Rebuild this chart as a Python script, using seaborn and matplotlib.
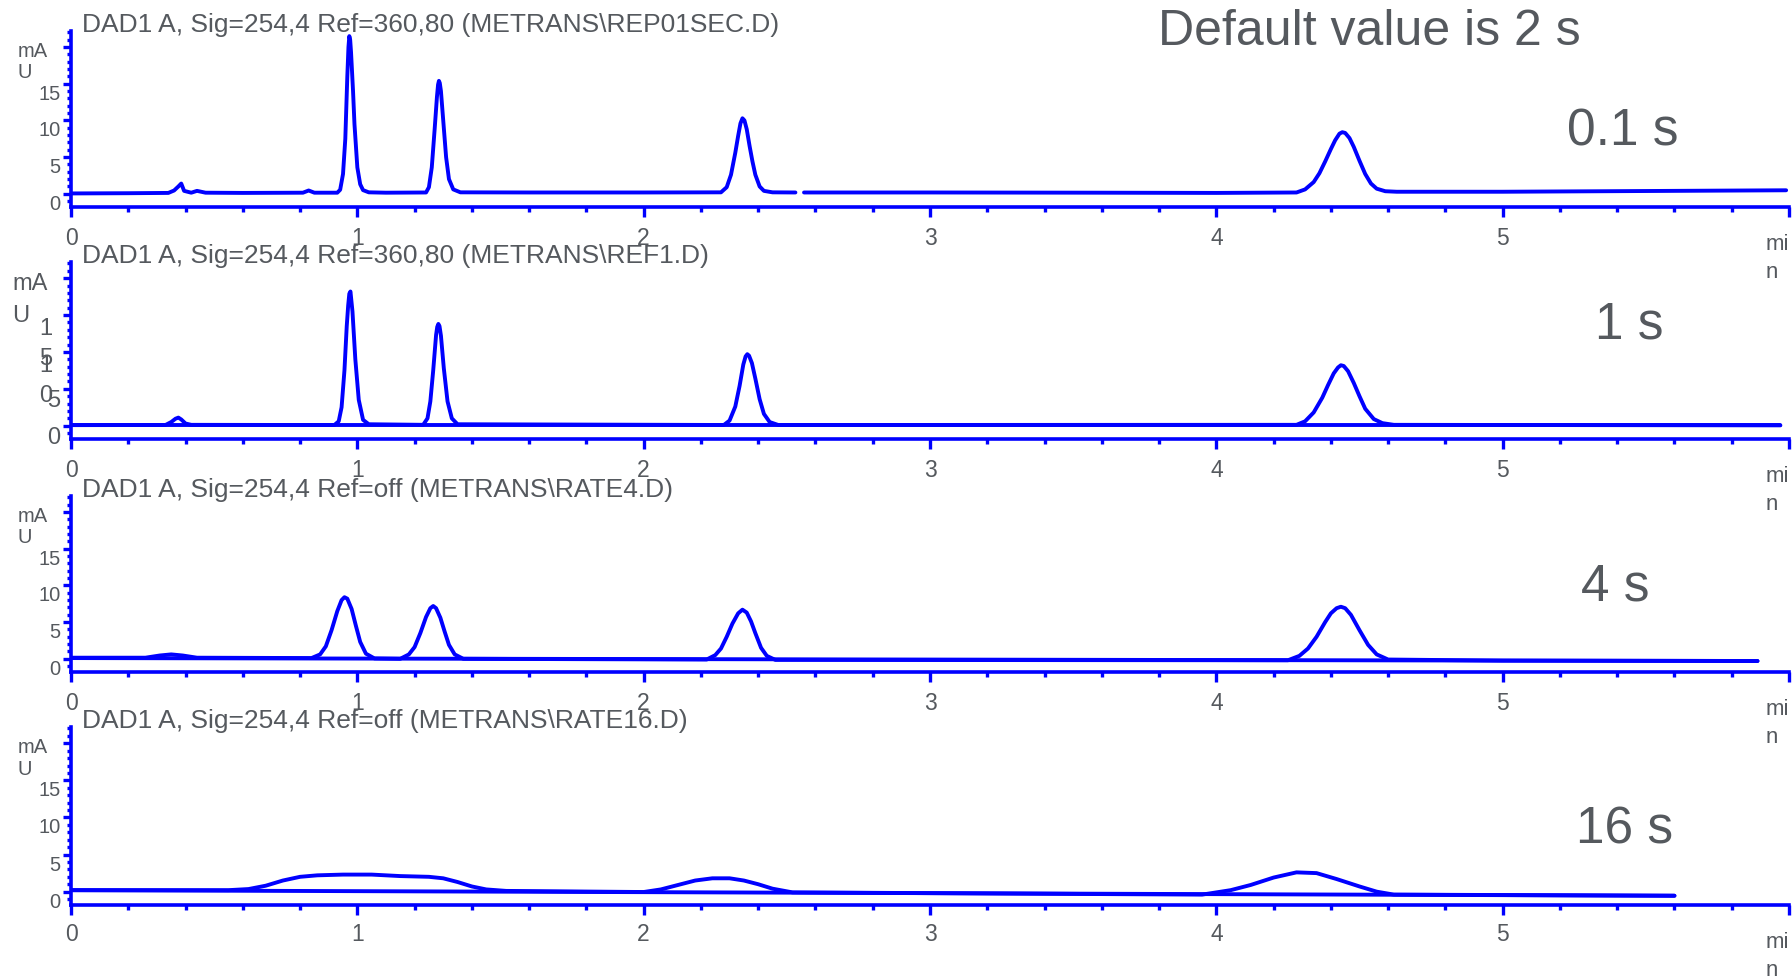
import matplotlib
matplotlib.use("Agg")
import matplotlib.pyplot as plt
import matplotlib.transforms as mtransforms
from matplotlib.ticker import FixedLocator, MultipleLocator
import seaborn as sns

# ---- data (time in min, signal in mAU) ----
titles = [
    "DAD1 A, Sig=254,4 Ref=360,80 (METRANS\\REP01SEC.D)",
    "DAD1 A, Sig=254,4 Ref=360,80 (METRANS\\REF1.D)",
    "DAD1 A, Sig=254,4 Ref=off (METRANS\\RATE4.D)",
    "DAD1 A, Sig=254,4 Ref=off (METRANS\\RATE16.D)",
]
rates = ["0.1 s", "1 s", "4 s", "16 s"]

# 0.1 s trace, first part (detector gap around 2.54 min)
t01_a = [0.00, 0.20, 0.34, 0.36, 0.375, 0.385, 0.395, 0.42, 0.44, 0.47, 0.60, 0.81, 0.83,
         0.85, 0.93, 0.94, 0.95, 0.958, 0.965, 0.969, 0.972, 0.975, 0.978, 0.985, 0.99,
         1.00, 1.01, 1.02, 1.04, 1.10, 1.24, 1.25, 1.26, 1.27, 1.278, 1.282, 1.285, 1.288,
         1.292, 1.30, 1.31, 1.32, 1.335, 1.36, 1.60, 2.00, 2.27, 2.29, 2.305, 2.32, 2.33,
         2.338, 2.345, 2.352, 2.36, 2.37, 2.38, 2.39, 2.405, 2.42, 2.45, 2.53]
s01_a = [0.05, 0.08, 0.12, 0.45, 1.00, 1.40, 0.40, 0.15, 0.40, 0.15, 0.12, 0.15, 0.45,
         0.15, 0.15, 0.55, 2.70, 7.50, 16.0, 20.0, 21.5, 21.0, 19.3, 14.0, 9.5,
         3.6, 1.3, 0.5, 0.2, 0.15, 0.18, 0.90, 3.60, 8.80, 13.2, 14.9, 15.4, 15.1,
         14.0, 10.0, 5.0, 2.0, 0.6, 0.2, 0.18, 0.18, 0.20, 0.90, 2.60, 5.60, 7.90,
         9.60, 10.3, 10.0, 8.8, 6.5, 4.4, 2.6, 1.0, 0.40, 0.20, 0.18]
t01_b = [2.56, 3.00, 3.60, 4.00, 4.28, 4.31, 4.34, 4.36, 4.38, 4.40, 4.415, 4.43, 4.44,
         4.45, 4.465, 4.48, 4.50, 4.52, 4.54, 4.56, 4.59, 4.63, 5.00, 5.50, 5.99]
s01_b = [0.18, 0.18, 0.15, 0.12, 0.18, 0.60, 1.60, 2.80, 4.40, 6.10, 7.30, 8.20, 8.40,
         8.30, 7.60, 6.40, 4.50, 2.70, 1.40, 0.70, 0.35, 0.28, 0.28, 0.38, 0.48]

# 1 s trace
t1 = [0.00, 0.33, 0.35, 0.365, 0.375, 0.385, 0.40, 0.42, 0.80, 0.92, 0.935, 0.945, 0.955,
      0.963, 0.968, 0.972, 0.976, 0.983, 0.993, 1.005, 1.02, 1.04, 1.23, 1.245, 1.255,
      1.265, 1.275, 1.279, 1.283, 1.287, 1.292, 1.302, 1.315, 1.33, 1.35, 2.28, 2.30, 2.32,
      2.335, 2.348, 2.356, 2.362, 2.368, 2.378, 2.39, 2.405, 2.42, 2.44, 2.47, 4.28, 4.31,
      4.34, 4.37, 4.39, 4.41, 4.425, 4.435, 4.445, 4.46, 4.48, 4.50, 4.52, 4.55, 4.58, 4.62,
      5.97]
s1 = [0.08, 0.10, 0.50, 0.95, 1.10, 0.85, 0.30, 0.12, 0.10, 0.10, 0.6, 2.5, 7.5,
      13.5, 16.3, 17.9, 18.2, 15.5, 9.0, 3.5, 0.8, 0.2, 0.12, 1.0, 3.3,
      7.5, 12.3, 13.4, 13.8, 13.5, 12.2, 7.8, 3.3, 1.0, 0.2, 0.1, 0.7, 2.6,
      5.4, 8.3, 9.4, 9.7, 9.5, 8.5, 6.4, 3.6, 1.6, 0.5, 0.1, 0.12, 0.6,
      1.8, 3.8, 5.5, 7.1, 7.9, 8.2, 8.1, 7.4, 5.8, 4.0, 2.3, 0.9, 0.35, 0.12,
      0.05]
t1_base = [0.00, 5.97]
s1_base = [0.05, 0.05]

# 4 s trace
t4 = [0.00, 0.26, 0.31, 0.35, 0.39, 0.44, 0.84, 0.87, 0.89, 0.91, 0.93, 0.945, 0.955, 0.965,
      0.98, 0.995, 1.01, 1.03, 1.06, 1.15, 1.18, 1.20, 1.22, 1.24, 1.255, 1.265, 1.275,
      1.29, 1.305, 1.32, 1.34, 1.37, 2.22, 2.25, 2.27, 2.29, 2.31, 2.33, 2.345, 2.36,
      2.375, 2.39, 2.41, 2.43, 2.46, 4.25, 4.29, 4.32, 4.35, 4.38, 4.40, 4.42, 4.435, 4.45,
      4.47, 4.50, 4.53, 4.56, 4.60, 5.00, 5.89]
s4 = [0.15, 0.15, 0.45, 0.60, 0.45, 0.15, 0.10, 0.6, 1.7, 3.9, 6.5, 8.0, 8.4, 8.2,
      6.8, 4.5, 2.3, 0.7, 0.05, 0.0, 0.6, 1.6, 3.5, 5.7, 6.9, 7.2, 6.9,
      5.6, 3.7, 1.9, 0.6, 0.0, -0.1, 0.5, 1.4, 3.0, 4.8, 6.2, 6.7, 6.3,
      5.1, 3.5, 1.5, 0.4, -0.15, -0.2, 0.4, 1.4, 3.0, 5.0, 6.2, 6.9, 7.1, 6.9,
      6.0, 3.9, 1.9, 0.6, -0.1, -0.25, -0.30]
t4_base = [0.00, 5.89]
s4_base = [0.10, -0.30]

# 16 s trace
t16 = [0.00, 0.55, 0.62, 0.68, 0.74, 0.80, 0.86, 0.95, 1.05, 1.15, 1.25, 1.30, 1.35, 1.40,
       1.45, 1.52, 2.00, 2.06, 2.12, 2.18, 2.24, 2.30, 2.35, 2.40, 2.45, 2.52, 3.95, 4.05,
       4.12, 4.20, 4.28, 4.35, 4.42, 4.50, 4.56, 4.62, 5.60]
s16 = [0.20, 0.20, 0.35, 0.8, 1.5, 2.0, 2.2, 2.3, 2.3, 2.1, 2.0, 1.8, 1.3, 0.7,
       0.3, 0.1, -0.05, 0.3, 0.9, 1.5, 1.8, 1.8, 1.5, 1.0, 0.4, -0.1, -0.4, 0.2,
       0.9, 1.9, 2.6, 2.5, 1.7, 0.7, 0.0, -0.4, -0.55]
t16_base = [0.00, 5.60]
s16_base = [0.20, -0.55]

x_ticks = [0, 1, 2, 3, 4, 5, 6]
x_labels = ["0", "1", "2", "3", "4", "5", ""]
y_ticks = [0, 5, 10, 15, 20]

traces = [
    [(t01_a, s01_a), (t01_b, s01_b)],
    [(t1, s1), (t1_base, s1_base)],
    [(t4, s4), (t4_base, s4_base)],
    [(t16, s16), (t16_base, s16_base)],
]

sns.set_style("ticks")
plt.rcParams["font.family"] = ["Liberation Sans", "DejaVu Sans"]

BLUE = "#0000ff"
GREY = "#55595e"
W, H = 1792, 979
fig = plt.figure(figsize=(W / 100, H / 100), dpi=100)

# panel frames in pixels: (axis top, x-axis line)
frames = [(32, 208), (263, 440), (497, 673), (728, 906)]
ysize = [14.5, 17, 14.5, 14.5]

for i, (top, bot) in enumerate(frames):
    ax = fig.add_axes([71 / W, 1 - bot / H, 1718 / W, (bot - top) / H])
    for tx, sy in traces[i]:
        sns.lineplot(x=tx, y=sy, ax=ax, color=BLUE, linewidth=2.8,
                     estimator=None, sort=False, legend=False)
    ax.set_xlim(0, 6)
    ax.set_ylim(-1.8, 22.2)
    sns.despine(ax=ax)
    for s in ["left", "bottom"]:
        ax.spines[s].set_color(BLUE)
        ax.spines[s].set_linewidth(2.6)
    ax.xaxis.set_major_locator(FixedLocator(x_ticks))
    ax.xaxis.set_minor_locator(MultipleLocator(0.2))
    ax.yaxis.set_major_locator(FixedLocator(y_ticks))
    ax.yaxis.set_minor_locator(MultipleLocator(1))
    ax.set_xticklabels(x_labels)
    if i == 1:
        ax.set_yticklabels(["0", "5", "", "", ""])
    else:
        ax.set_yticklabels(["0", "5", "10", "15", ""])
    ax.tick_params(axis="both", which="both", color=BLUE, width=2.4,
                   direction="out", labelcolor=GREY, bottom=True, left=True)
    ax.tick_params(axis="x", which="major", length=7, pad=6.5 if i < 3 else 5.5,
                   labelsize=16.5)
    ax.tick_params(axis="x", which="minor", length=3.5)
    ax.tick_params(axis="y", which="major", length=5.5, pad=2, labelsize=ysize[i])
    ax.tick_params(axis="y", which="minor", length=3)
    for lbl in ax.get_yticklabels():
        lbl.set_va("top")
    ax.set_xlabel("")
    ax.set_ylabel("")
    ax.patch.set_alpha(0)

    ytr = mtransforms.blended_transform_factory(ax.transAxes, ax.transData)
    # unit labels
    ax.annotate("mA\nU", xy=(0, 20), xycoords=ytr, xytext=(-23, 6),
                textcoords="offset pixels", ha="right", va="top",
                multialignment="left", fontsize=ysize[i], color=GREY,
                linespacing=1.15 if i != 1 else 1.55)
    ax.annotate("mi\nn", xy=(6, 0), xycoords=("data", "axes fraction"),
                xytext=(0, -26), textcoords="offset pixels", ha="right", va="top",
                multialignment="left", fontsize=16, color=GREY, linespacing=1.45)
    if i == 1:
        for v, txt in [(10, "1\n0"), (15, "1\n5")]:
            ax.annotate(txt, xy=(0, v), xycoords=ytr, xytext=(-19, -2),
                        textcoords="offset pixels", ha="right", va="top",
                        fontsize=ysize[i], color=GREY, linespacing=1.45)

    fig.text(82 / W, 1 - top / H, titles[i], fontsize=19, color=GREY,
             ha="left", va="baseline")

fig.text(1369 / W, 1 - 32 / H, "Default value is 2 s", fontsize=36,
         color=GREY, ha="center", va="center")
for txt, (px, py) in zip(rates, [(1623, 132), (1629, 325), (1615, 587), (1625, 830)]):
    fig.text(px / W, 1 - py / H, txt, fontsize=37, color=GREY,
             ha="center", va="center")

fig.savefig("out.png", dpi=100, facecolor="white")
